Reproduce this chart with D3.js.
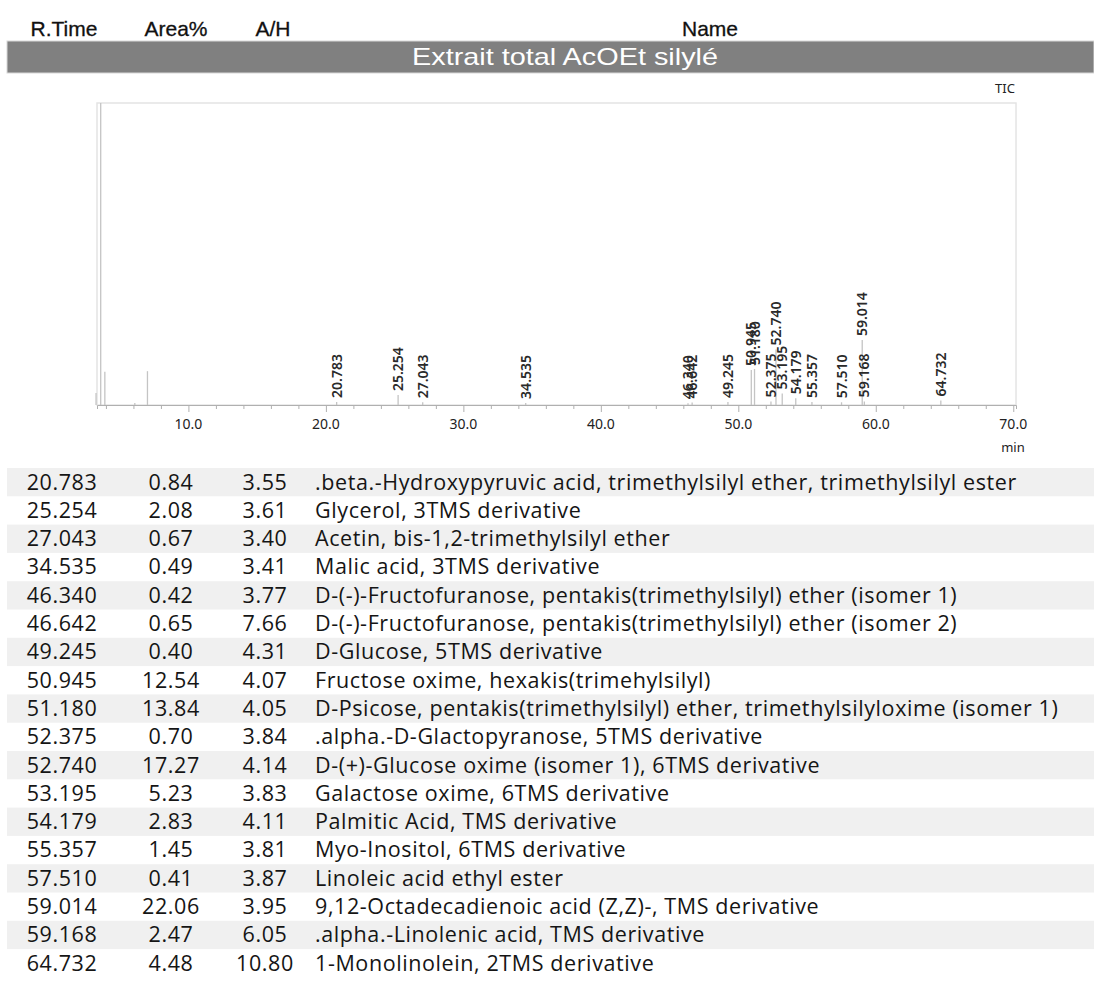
<!DOCTYPE html>
<html>
<head>
<meta charset="utf-8">
<script src="https://cdn.jsdelivr.net/npm/d3@7"></script>
<style>
  html, body { margin: 0; padding: 0; background: #fff; }
  svg { display: block; }
</style>
</head>
<body>
<svg id="chart" width="1094" height="989"></svg>
<script>
// Identified compounds (retention time in minutes)
const retentionTimes = [20.783, 25.254, 27.043, 34.535, 46.340, 46.642, 49.245, 50.945, 51.180,
  52.375, 52.740, 53.195, 54.179, 55.357, 57.510, 59.014, 59.168, 64.732];
const areaPercent = [0.84, 2.08, 0.67, 0.49, 0.42, 0.65, 0.40, 12.54, 13.84,
  0.70, 17.27, 5.23, 2.83, 1.45, 0.41, 22.06, 2.47, 4.48];
const areaHeight = [3.55, 3.61, 3.40, 3.41, 3.77, 7.66, 4.31, 4.07, 4.05,
  3.84, 4.14, 3.83, 4.11, 3.81, 3.87, 3.95, 6.05, 10.80];
const compoundNames = [
  ".beta.-Hydroxypyruvic acid, trimethylsilyl ether, trimethylsilyl ester",
  "Glycerol, 3TMS derivative",
  "Acetin, bis-1,2-trimethylsilyl ether",
  "Malic acid, 3TMS derivative",
  "D-(-)-Fructofuranose, pentakis(trimethylsilyl) ether (isomer 1)",
  "D-(-)-Fructofuranose, pentakis(trimethylsilyl) ether (isomer 2)",
  "D-Glucose, 5TMS derivative",
  "Fructose oxime, hexakis(trimehylsilyl)",
  "D-Psicose, pentakis(trimethylsilyl) ether, trimethylsilyloxime (isomer 1)",
  ".alpha.-D-Glactopyranose, 5TMS derivative",
  "D-(+)-Glucose oxime (isomer 1), 6TMS derivative",
  "Galactose oxime, 6TMS derivative",
  "Palmitic Acid, TMS derivative",
  "Myo-Inositol, 6TMS derivative",
  "Linoleic acid ethyl ester",
  "9,12-Octadecadienoic acid (Z,Z)-, TMS derivative",
  ".alpha.-Linolenic acid, TMS derivative",
  "1-Monolinolein, 2TMS derivative"
];
// TIC peak heights (% of the largest signal) for the labelled peaks
const peakIntensity = [1.0, 3.3, 0.9, 0.7, 0.6, 0.8, 1.0, 11.6, 11.9,
  1.2, 18.4, 3.8, 2.2, 1.0, 0.9, 21.5, 1.2, 1.5];
// Unlabelled early peaks (solvent front)
const solventTimes = [3.28, 3.62, 3.92, 6.10, 7.02];
const solventIntensity = [4.0, 100, 11.0, 0.7, 11.2];

const columnHeaders = ["R.Time", "Area%", "A/H", "Name"];
const sampleTitle = "Extrait total AcOEt silylé";
const xTicks = [10, 20, 30, 40, 50, 60, 70];

const svg = d3.select("#chart");
const headFont = "'Liberation Sans', Arial, sans-serif";
const tableFont = "'Open Sans', 'Noto Sans', sans-serif";
const plotFont = "'Noto Sans', 'Open Sans', sans-serif";

// ---- Column header row
const headerX = [64, 176, 273, 710];
svg.append("g").selectAll("text").data(columnHeaders).join("text")
  .attr("x", (d, i) => headerX[i]).attr("y", 36)
  .attr("text-anchor", "middle")
  .attr("font-family", headFont).attr("font-size", 21)
  .attr("fill", "#111").attr("stroke", "#111").attr("stroke-width", 0.3)
  .text(d => d);

// ---- Sample title bar
svg.append("rect").attr("x", 7).attr("y", 41).attr("width", 1087).attr("height", 32)
  .attr("fill", "#808080").attr("stroke", "#d8d8d8").attr("stroke-width", 1);
svg.append("text").attr("x", 565).attr("y", 65)
  .attr("text-anchor", "middle")
  .attr("font-family", headFont).attr("font-size", 24).attr("fill", "#fff")
  .attr("textLength", 306).attr("lengthAdjust", "spacingAndGlyphs")
  .text(sampleTitle);

// ---- Chromatogram
const plot = { left: 97, right: 1016, top: 103, bottom: 405 };
const x = d3.scaleLinear().domain([3.35, 70.2]).range([plot.left, plot.right]);
const y = d3.scaleLinear().domain([0, 100]).range([plot.bottom, plot.top]);

svg.append("text").attr("x", 1005).attr("y", 93)
  .attr("text-anchor", "middle")
  .attr("font-family", plotFont).attr("font-size", 13).attr("fill", "#222")
  .text("TIC");

svg.append("rect")
  .attr("x", plot.left).attr("y", plot.top)
  .attr("width", plot.right - plot.left).attr("height", plot.bottom - plot.top)
  .attr("fill", "none").attr("stroke", "#e4e4e4").attr("stroke-width", 1.5);

// peaks as thin spikes
const peaks = solventTimes.map((t, i) => ({ t, v: solventIntensity[i] }))
  .concat(retentionTimes.map((t, i) => ({ t, v: peakIntensity[i], label: t.toFixed(3) })));

svg.append("g").selectAll("line").data(peaks).join("line")
  .attr("x1", d => x(d.t)).attr("x2", d => x(d.t))
  .attr("y1", y(0)).attr("y2", d => y(d.v))
  .attr("stroke", "#c4c4c4").attr("stroke-width", 1.3);

// x axis
const xAxis = d3.axisBottom(x).tickValues(d3.range(4, 71, 2)).tickSize(4).tickFormat("");
const ax = svg.append("g").attr("transform", `translate(0,${plot.bottom})`).call(xAxis);
ax.select(".domain").attr("stroke", "#b0b0b0");
ax.selectAll(".tick line").attr("stroke", "#b0b0b0")
  .attr("y2", d => (d % 10 === 0 ? 7 : 4));

svg.append("g").selectAll("text").data(xTicks).join("text")
  .attr("x", d => x(d)).attr("y", 429)
  .attr("text-anchor", "middle")
  .attr("font-family", plotFont).attr("font-size", 14).attr("fill", "#222")
  .text(d => d.toFixed(1));
svg.append("text").attr("x", 1013).attr("y", 452)
  .attr("text-anchor", "middle")
  .attr("font-family", plotFont).attr("font-size", 13).attr("fill", "#222")
  .text("min");

// peak labels, rotated, sitting on top of each peak
svg.append("g").selectAll("text").data(peaks.filter(d => d.label)).join("text")
  .attr("transform", d => `translate(${x(d.t) + 5},${y(d.v) - 4}) rotate(-90)`)
  .attr("font-family", plotFont).attr("font-size", 14).attr("font-weight", 600)
  .attr("fill", "#2a2a2a")
  .text(d => d.label);

// ---- Compound table
const rowTop = 468, rowH = 28.3;
const rows = svg.append("g").selectAll("g").data(retentionTimes).join("g")
  .attr("transform", (d, i) => `translate(0,${rowTop + i * rowH})`);
rows.filter((d, i) => i % 2 === 0).append("rect")
  .attr("x", 7).attr("y", 0).attr("width", 1087).attr("height", rowH)
  .attr("fill", "#f0f0f0");
const cellY = 21.5;
rows.append("text").attr("x", 62).attr("y", cellY).attr("text-anchor", "middle")
  .text(d => d.toFixed(3));
rows.append("text").attr("x", 171).attr("y", cellY).attr("text-anchor", "middle")
  .text((d, i) => areaPercent[i].toFixed(2));
rows.append("text").attr("x", 265).attr("y", cellY).attr("text-anchor", "middle")
  .text((d, i) => areaHeight[i].toFixed(2));
rows.append("text").attr("x", 315).attr("y", cellY).attr("text-anchor", "start")
  .text((d, i) => compoundNames[i]);
rows.selectAll("text")
  .attr("font-family", tableFont).attr("font-size", 21.5)
  .attr("letter-spacing", 0.6).attr("fill", "#151515");
</script>
</body>
</html>
